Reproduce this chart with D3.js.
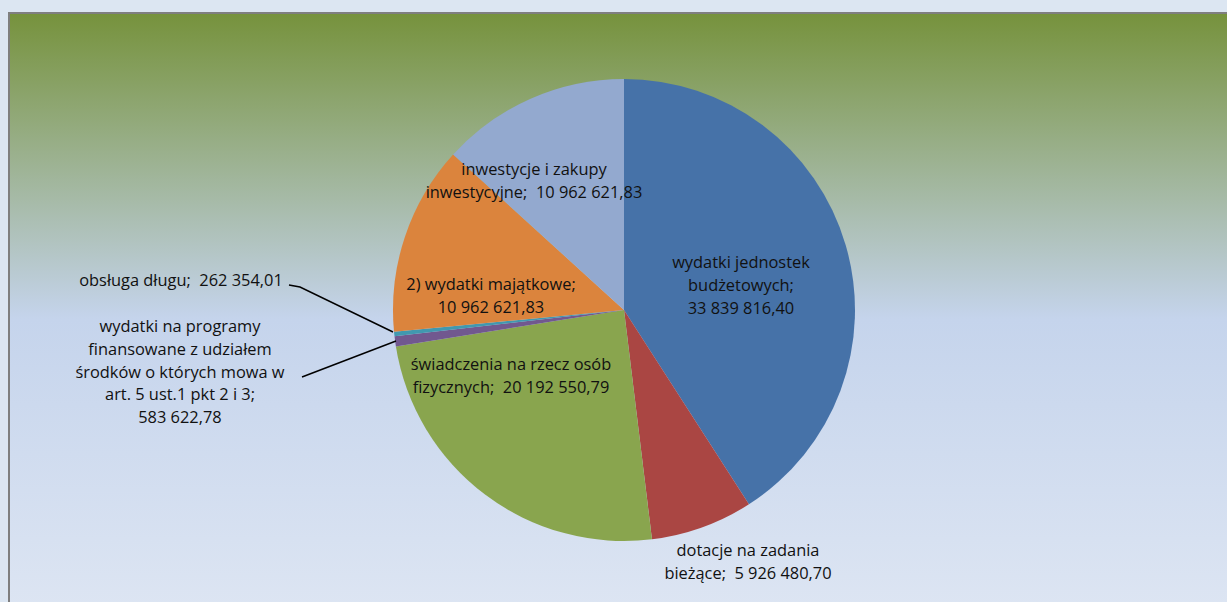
<!DOCTYPE html>
<html>
<head>
<meta charset="utf-8">
<style>
  body { margin: 0; background: #dce6f2; }
  svg { display: block; }
  .lbl { font-family: "Open Sans", Lato, sans-serif; font-size: 16.4px; fill: #111; white-space: pre; }
</style>
</head>
<body>
<script src="https://d3js.org/d3.v7.min.js"></script>
<script>
var categories = [
  "wydatki jednostek budżetowych",
  "dotacje na zadania bieżące",
  "świadczenia na rzecz osób fizycznych",
  "wydatki na programy finansowane z udziałem środków o których mowa w art. 5 ust.1 pkt 2 i 3",
  "obsługa długu",
  "2) wydatki majątkowe",
  "inwestycje i zakupy inwestycyjne"
];
var values = [33839816.40, 5926480.70, 20192550.79, 583622.78, 262354.01, 10962621.83, 10962621.83];
var valueLabels = ["33 839 816,40", "5 926 480,70", "20 192 550,79", "583 622,78", "262 354,01", "10 962 621,83", "10 962 621,83"];
var colors = ["#4672a8", "#aa4643", "#89a54e", "#71588f", "#4198af", "#db843d", "#93a9cf"];

// label text lines as wrapped in the original
var labelLines = [
  ["wydatki jednostek", "budżetowych;", "33 839 816,40"],
  ["dotacje na zadania", "bieżące;  5 926 480,70"],
  ["świadczenia na rzecz osób", "fizycznych;  20 192 550,79"],
  ["wydatki na programy", "finansowane z udziałem", "środków o których mowa w", "art. 5 ust.1 pkt 2 i 3;", "583 622,78"],
  ["obsługa długu;  262 354,01"],
  ["2) wydatki majątkowe;", "10 962 621,83"],
  ["inwestycje i zakupy", "inwestycyjne;  10 962 621,83"]
];
// label centre (x, first-line baseline y)
var labelPos = [[741, 268], [748, 556], [511, 370], [180, 332], [181, 286], [491, 290], [534, 175]];
// leader lines for the outside labels
var leaders = {3: [[302, 377], [396, 341]], 4: [[289, 285], [300, 287], [393, 332]]};

var width = 1227, height = 602;
var cx = 624, cy = 310, radius = 231;

var svg = d3.select("body").append("svg")
    .attr("width", width)
    .attr("height", height);

var defs = svg.append("defs");
var grad = defs.append("linearGradient")
    .attr("id", "bg")
    .attr("x1", 0).attr("y1", 0).attr("x2", 0).attr("y2", 1);
grad.append("stop").attr("offset", "0%").attr("stop-color", "#76923c");
grad.append("stop").attr("offset", "50%").attr("stop-color", "#c5d4ec");
grad.append("stop").attr("offset", "100%").attr("stop-color", "#dee6f3");

svg.append("rect")
    .attr("x", 9).attr("y", 13)
    .attr("width", width + 10).attr("height", height + 10)
    .attr("fill", "url(#bg)")
    .attr("stroke", "#7f7f7f")
    .attr("stroke-width", 2);

var pie = d3.pie().sort(null).value(function(d) { return d; });
var arc = d3.arc().innerRadius(0).outerRadius(radius);

var g = svg.append("g").attr("transform", "translate(" + cx + "," + cy + ")");
g.selectAll("path")
    .data(pie(values))
    .enter().append("path")
    .attr("d", arc)
    .attr("fill", function(d, i) { return colors[i]; });

Object.keys(leaders).forEach(function(k) {
  svg.append("path")
      .attr("d", d3.line()(leaders[k]))
      .attr("fill", "none")
      .attr("stroke", "#000")
      .attr("stroke-width", 1.5);
});

labelLines.forEach(function(lines, i) {
  var t = svg.append("text")
      .attr("class", "lbl")
      .attr("text-anchor", "middle")
      .attr("x", labelPos[i][0])
      .attr("y", labelPos[i][1]);
  lines.forEach(function(s, j) {
    t.append("tspan")
        .attr("x", labelPos[i][0])
        .attr("dy", j === 0 ? 0 : 22.8)
        .text(s);
  });
});
</script>
</body>
</html>
